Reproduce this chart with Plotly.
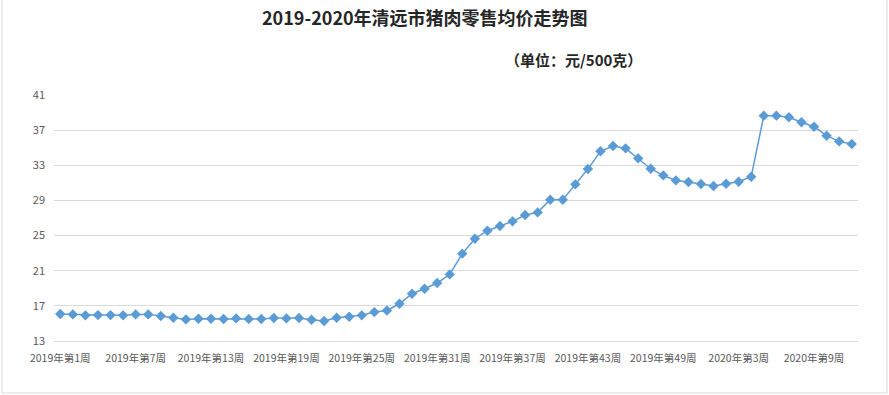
import plotly.graph_objects as go

weeks_2019 = [f"2019年第{i}周" for i in range(1, 53)]
weeks_2020 = [f"2020年第{i}周" for i in range(1, 13)]
categories = weeks_2019 + weeks_2020

prices = [
    16.07, 16.03, 15.92, 15.95, 15.95, 15.92, 16.03, 16.03, 15.84, 15.65,
    15.46, 15.53, 15.53, 15.50, 15.57, 15.50, 15.50, 15.61, 15.57, 15.61,
    15.42, 15.27, 15.65, 15.76, 15.92, 16.29, 16.48, 17.24, 18.38, 18.95,
    19.60, 20.58, 22.94, 24.64, 25.55, 26.09, 26.62, 27.34, 27.64, 29.08,
    29.08, 30.83, 32.57, 34.59, 35.19, 34.93, 33.79, 32.61, 31.85, 31.28,
    31.09, 30.87, 30.64, 30.90, 31.13, 31.70, 38.65, 38.65, 38.46, 37.89,
    37.39, 36.37, 35.72, 35.42,
]

tick_labels = categories[::6]
y_ticks = [13, 17, 21, 25, 29, 33, 37, 41]

title_text = "2019-2020年清远市猪肉零售均价走势图"
unit_text = "（单位：元/500克）"

FONT = "Noto Sans CJK SC"

fig = go.Figure()
fig.add_trace(go.Scatter(
    x=categories, y=prices, mode="lines+markers",
    line=dict(color="#5b9bd5", width=1.5),
    marker=dict(symbol="diamond", size=8, color="#5b9bd5"),
    showlegend=False,
))

L, R, T, B = 54, 31, 95, 54
W, H = 889, 395
pw, ph = W - L - R, H - T - B

def px_x(x):
    return (x - L) / pw

def px_y(y):
    return (H - B - y) / ph

fig.update_layout(
    width=W, height=H,
    margin=dict(l=L, r=R, t=T, b=B),
    paper_bgcolor="white", plot_bgcolor="white",
    font=dict(family=FONT, size=11, color="#595959"),
    xaxis=dict(
        type="category", range=[-0.5, len(categories) - 0.5],
        tickmode="array", tickvals=tick_labels, ticktext=tick_labels,
        showgrid=False, showline=True, linecolor="#d9d9d9", linewidth=1,
        ticks="", tickangle=0, ticklabelstandoff=7,
        tickfont=dict(family=FONT, size=10.5, color="#595959"),
    ),
    yaxis=dict(
        range=[13, 41], tickmode="array", tickvals=y_ticks,
        showgrid=True, gridcolor="#d9d9d9", gridwidth=1,
        zeroline=False, showline=False, ticks="", ticklabelstandoff=8,
        tickfont=dict(family=FONT, size=11, color="#595959"),
    ),
    annotations=[
        dict(text=f"<b>{title_text}</b>", xref="paper", yref="paper",
             x=px_x(425), y=px_y(17), xanchor="center", yanchor="middle",
             showarrow=False, font=dict(family=FONT, size=18, color="#262626")),
        dict(text=f"<b>{unit_text}</b>", xref="paper", yref="paper",
             x=px_x(573), y=px_y(59), xanchor="center", yanchor="middle",
             showarrow=False, font=dict(family=FONT, size=15, color="#262626")),
    ],
    shapes=[
        dict(type="rect", xref="paper", yref="paper",
             x0=px_x(2), x1=px_x(887), y0=px_y(393), y1=px_y(-5),
             line=dict(color="#d9d9d9", width=1), fillcolor="rgba(0,0,0,0)"),
    ],
)

fig.write_html(
    "out.html",
    config={"displayModeBar": False},
    post_script="document.body.style.margin='0';document.body.style.overflow='hidden';",
)
